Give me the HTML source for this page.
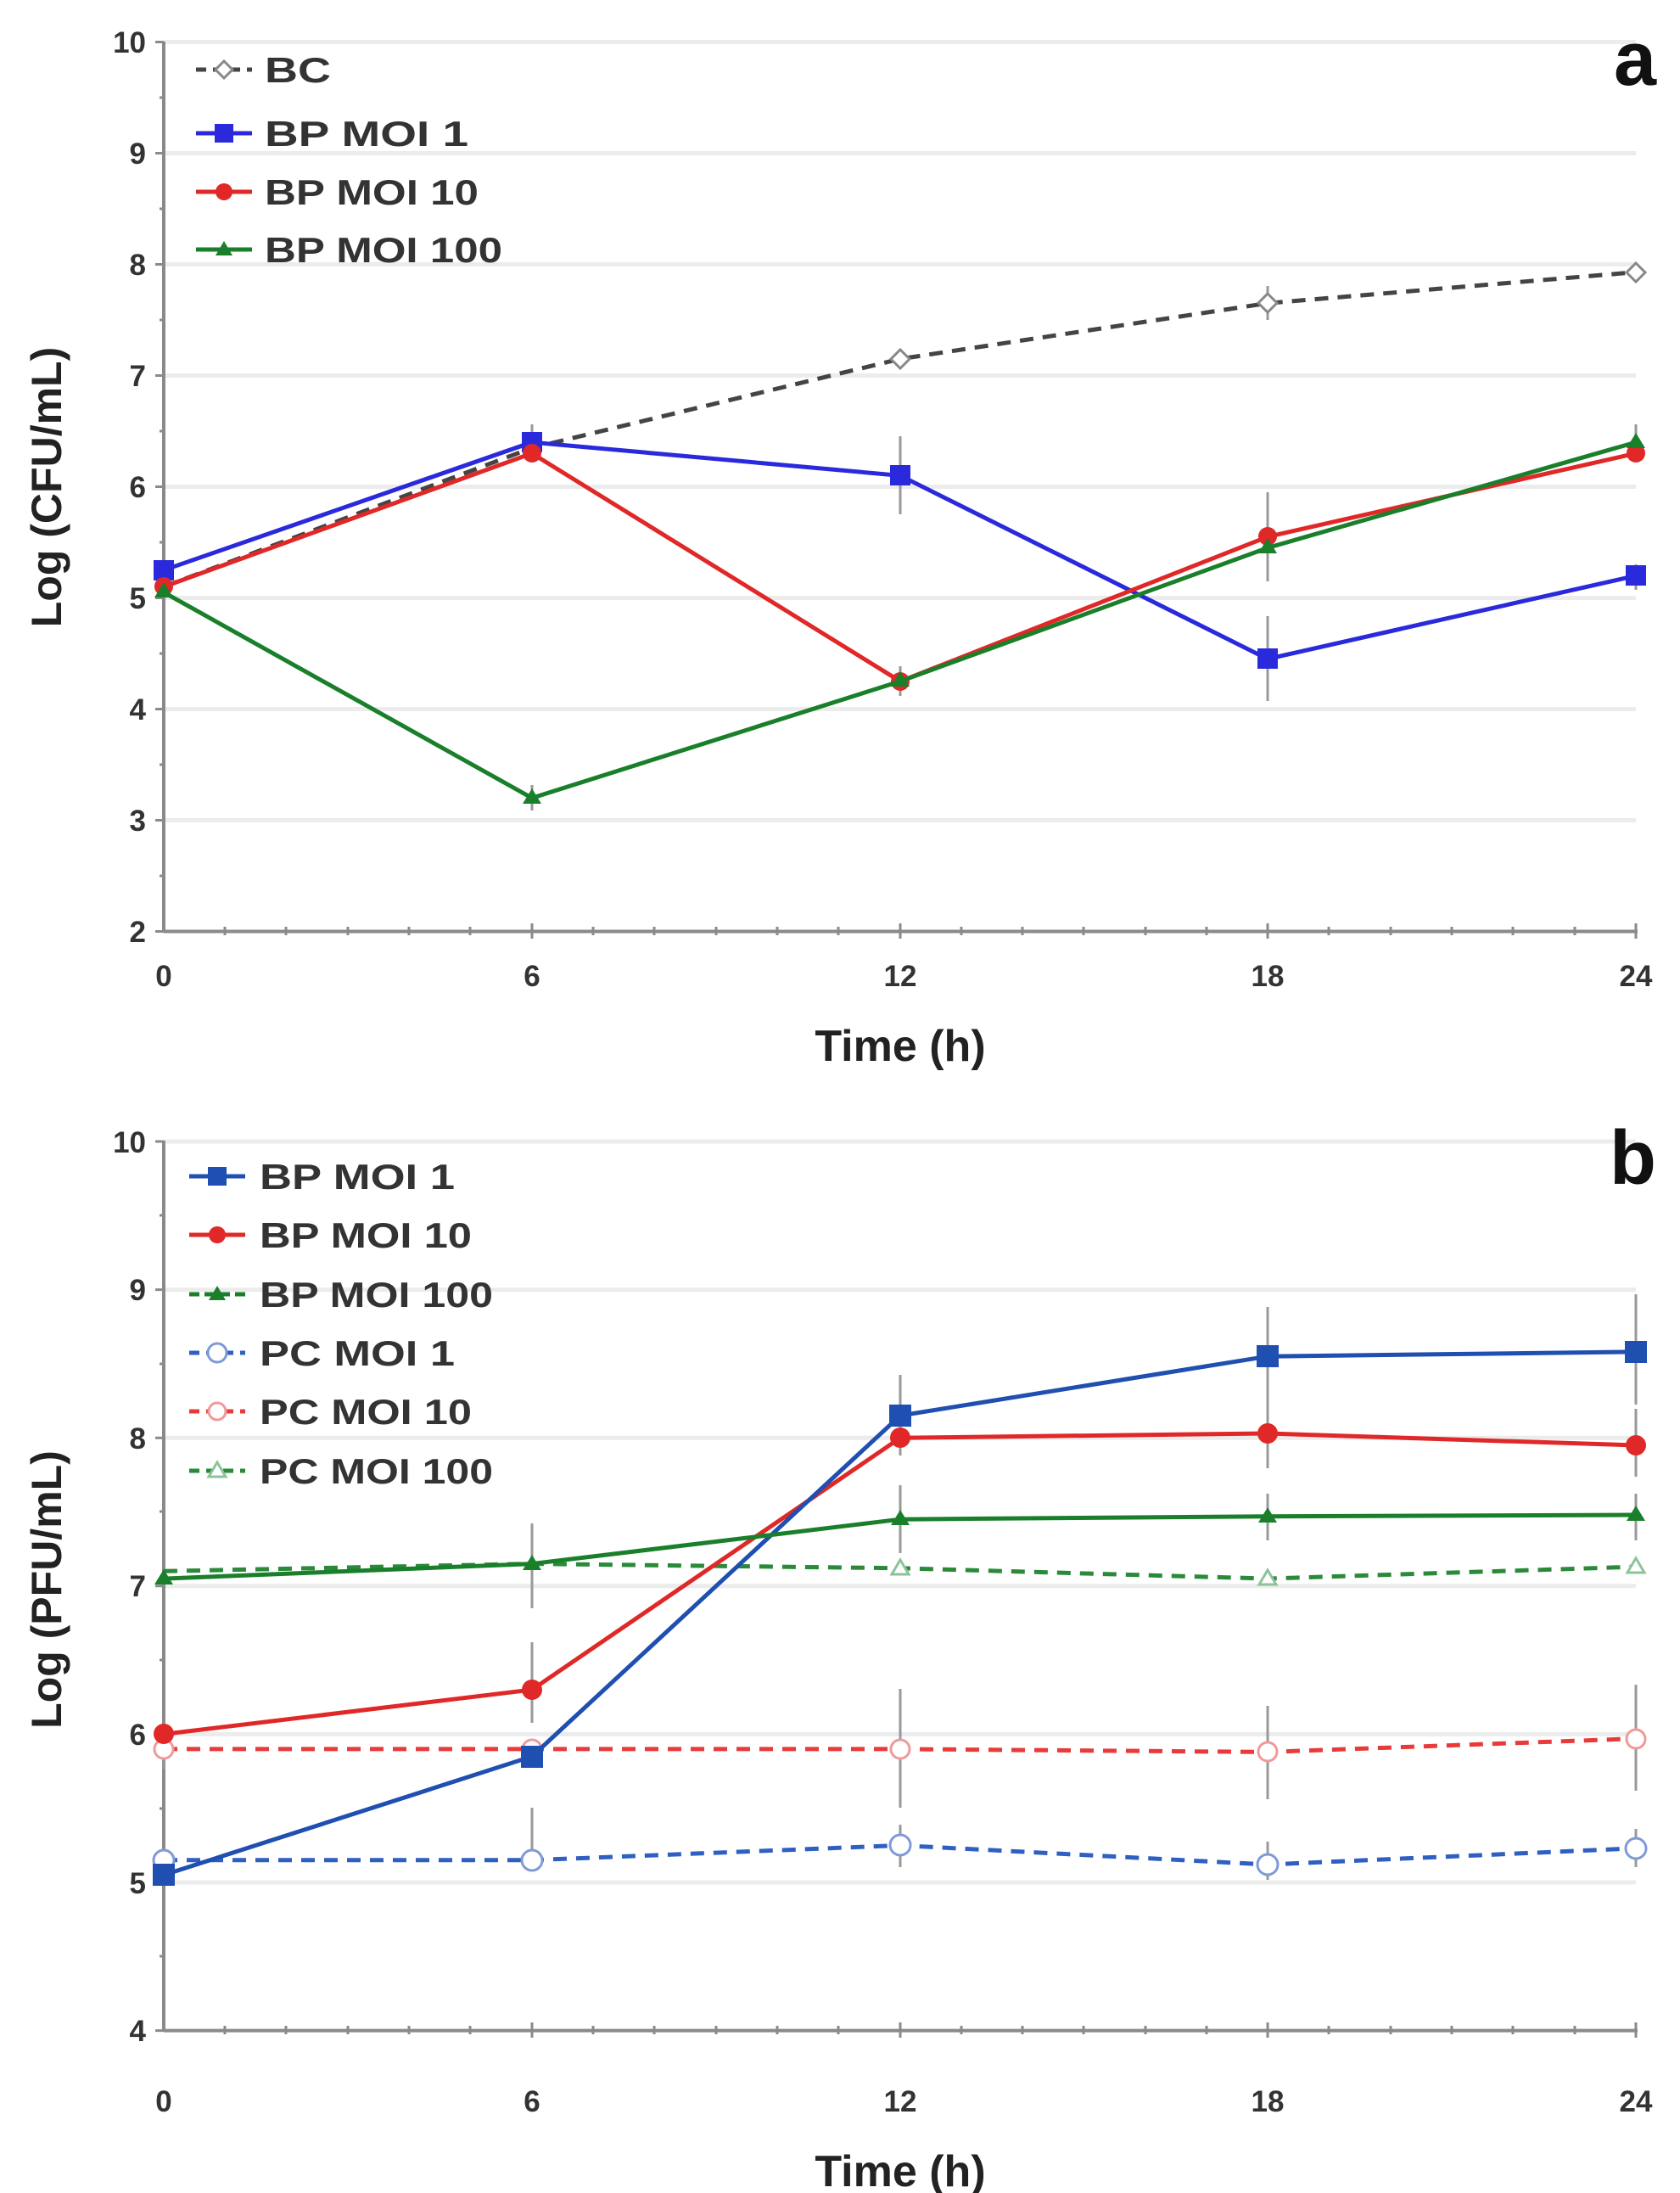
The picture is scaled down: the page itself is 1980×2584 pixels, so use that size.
<!DOCTYPE html>
<html><head><meta charset="utf-8"><style>html,body{margin:0;padding:0;background:#fff}svg{display:block}</style></head><body>
<svg width="1980" height="2584" viewBox="0 0 1980 2584" xmlns="http://www.w3.org/2000/svg" font-family="Liberation Sans, sans-serif">
<!-- Panel a -->
<g stroke="#ececec" stroke-width="5">
<line x1="193" x2="1928" y1="966.5" y2="966.5"/><line x1="193" x2="1928" y1="835.5" y2="835.5"/><line x1="193" x2="1928" y1="704.5" y2="704.5"/><line x1="193" x2="1928" y1="573.5" y2="573.5"/><line x1="193" x2="1928" y1="442.5" y2="442.5"/><line x1="193" x2="1928" y1="311.5" y2="311.5"/><line x1="193" x2="1928" y1="180.5" y2="180.5"/><line x1="193" x2="1928" y1="49.5" y2="49.5"/>
</g>
<g stroke="#8a8a8a" stroke-width="4">
<line x1="193" y1="49" x2="193" y2="1098"/><line x1="193" y1="1097.5" x2="1930" y2="1097.5"/>
</g>
<g stroke="#8a8a8a" stroke-width="3">
<path d="M183 49.5h10M183 180.5h10M183 311.5h10M183 442.5h10M183 573.5h10M183 704.5h10M183 835.5h10M183 966.5h10M183 1097.5h10M188 115h5M188 246h5M188 377h5M188 508h5M188 639h5M188 770h5M188 901h5M188 1032h5"/>
<path d="M627 1088v18M1061 1088v18M1494 1088v18M1928 1088v18"/>
<path d="M265 1092v10M337 1092v10M410 1092v10M482 1092v10M554 1092v10M699 1092v10M771 1092v10M844 1092v10M916 1092v10M988 1092v10M1133 1092v10M1205 1092v10M1277 1092v10M1350 1092v10M1422 1092v10M1566 1092v10M1639 1092v10M1711 1092v10M1783 1092v10M1856 1092v10"/>
</g>
<g font-size="35" font-weight="bold" fill="#333" text-anchor="end">
<text x="172" y="62">10</text><text x="172" y="193">9</text><text x="172" y="324">8</text><text x="172" y="455">7</text><text x="172" y="586">6</text><text x="172" y="717">5</text><text x="172" y="848">4</text><text x="172" y="979">3</text><text x="172" y="1110">2</text>
</g>
<g font-size="35" font-weight="bold" fill="#333" text-anchor="middle">
<text x="193" y="1162">0</text><text x="627" y="1162">6</text><text x="1061" y="1162">12</text><text x="1494" y="1162">18</text><text x="1928" y="1162">24</text>
</g>
<text x="1061" y="1250" font-size="52" font-weight="bold" fill="#222" text-anchor="middle">Time (h)</text>
<text transform="translate(72,574) rotate(-90)" font-size="50" font-weight="bold" fill="#222" text-anchor="middle">Log (CFU/mL)</text>
<text x="1952" y="100" font-size="90" font-weight="bold" fill="#111" text-anchor="end">a</text>
<!-- error bars a -->
<g stroke="#999" stroke-width="3">
<path d="M1061 514v92M1494 726v100M1494 580v105M1494 337v40M1928 500v45M627 500v45M1928 665v30M1061 785v35M627 925v30"/>
</g>
<!-- series a -->
<polyline points="193,691.4 627,527.7 1061,422.9 1494,357.3 1928,320.7" fill="none" stroke="#444" stroke-width="5" stroke-dasharray="16,11"/>
<g fill="#fff" stroke="#888" stroke-width="3"><path d="M1061 412l11 11-11 11-11-11z"/><path d="M1494 346l11 11-11 11-11-11z"/><path d="M1928 310l11 11-11 11-11-11z"/></g>
<polyline points="193,671.8 627,521.1 1061,560.4 1494,776.5 1928,678.3" fill="none" stroke="#2a2adc" stroke-width="5"/>
<g fill="#2a2adc"><rect x="181" y="660" width="24" height="24"/><rect x="615" y="509" width="24" height="24"/><rect x="1049" y="548" width="24" height="24"/><rect x="1482" y="764" width="24" height="24"/><rect x="1916" y="666" width="24" height="24"/></g>
<polyline points="193,691.4 627,534.2 1061,802.8 1494,632.5 1928,534.2" fill="none" stroke="#e02828" stroke-width="5"/>
<g fill="#e02828"><circle cx="193" cy="691" r="11"/><circle cx="627" cy="534" r="11"/><circle cx="1061" cy="803" r="11"/><circle cx="1494" cy="632" r="11"/><circle cx="1928" cy="534" r="11"/></g>
<polyline points="193,697.9 627,940.3 1061,802.8 1494,645.5 1928,521.1" fill="none" stroke="#1a7f2a" stroke-width="5"/>
<g fill="#1a7f2a"><path d="M193 686l11 18h-22z"/><path d="M627 929l11 18h-22z"/><path d="M1061 791l11 18h-22z"/><path d="M1494 634l11 18h-22z"/><path d="M1928 510l11 18h-22z"/></g>
<!-- legend a -->
<g font-size="42" font-weight="bold" fill="#333">
<line x1="231" y1="82" x2="297" y2="82" stroke="#444" stroke-width="5" stroke-dasharray="12,8"/><path d="M264 72l10 10-10 10-10-10z" fill="#fff" stroke="#888" stroke-width="3"/><text x="312" y="97" textLength="78" lengthAdjust="spacingAndGlyphs">BC</text>
<line x1="231" y1="157" x2="297" y2="157" stroke="#2a2adc" stroke-width="5"/><rect x="253" y="146" width="22" height="22" fill="#2a2adc"/><text x="312" y="172" textLength="240" lengthAdjust="spacingAndGlyphs">BP  MOI 1</text>
<line x1="231" y1="226" x2="297" y2="226" stroke="#e02828" stroke-width="5"/><circle cx="264" cy="226" r="10" fill="#e02828"/><text x="312" y="241" textLength="252" lengthAdjust="spacingAndGlyphs">BP MOI 10</text>
<line x1="231" y1="294" x2="297" y2="294" stroke="#1a7f2a" stroke-width="5"/><path d="M264 284l10 17h-20z" fill="#1a7f2a"/><text x="312" y="309" textLength="280" lengthAdjust="spacingAndGlyphs">BP MOI 100</text>
</g>
<!-- Panel b -->
<g stroke="#ececec" stroke-width="5">
<line x1="193" x2="1928" y1="2218" y2="2218"/><line x1="193" x2="1928" y1="2043.4" y2="2043.4"/><line x1="193" x2="1928" y1="1868.8" y2="1868.8"/><line x1="193" x2="1928" y1="1694.2" y2="1694.2"/><line x1="193" x2="1928" y1="1519.6" y2="1519.6"/><line x1="193" x2="1928" y1="1345" y2="1345"/>
</g>
<g stroke="#8a8a8a" stroke-width="4">
<line x1="193" y1="1344" x2="193" y2="2393"/><line x1="193" y1="2392.6" x2="1930" y2="2392.6"/>
</g>
<g stroke="#8a8a8a" stroke-width="3">
<path d="M183 1345h10M183 1519.6h10M183 1694.2h10M183 1868.8h10M183 2043.4h10M183 2218h10M183 2392.6h10M188 1432h5M188 1607h5M188 1781h5M188 1956h5M188 2131h5M188 2305h5"/>
<path d="M627 2383v18M1061 2383v18M1494 2383v18M1928 2383v18"/>
<path d="M265 2387v10M337 2387v10M410 2387v10M482 2387v10M554 2387v10M699 2387v10M771 2387v10M844 2387v10M916 2387v10M988 2387v10M1133 2387v10M1205 2387v10M1277 2387v10M1350 2387v10M1422 2387v10M1566 2387v10M1639 2387v10M1711 2387v10M1783 2387v10M1856 2387v10"/>
</g>
<g font-size="35" font-weight="bold" fill="#333" text-anchor="end">
<text x="172" y="1358">10</text><text x="172" y="1532">9</text><text x="172" y="1707">8</text><text x="172" y="1881">7</text><text x="172" y="2056">6</text><text x="172" y="2231">5</text><text x="172" y="2405">4</text>
</g>
<g font-size="35" font-weight="bold" fill="#333" text-anchor="middle">
<text x="193" y="2488">0</text><text x="627" y="2488">6</text><text x="1061" y="2488">12</text><text x="1494" y="2488">18</text><text x="1928" y="2488">24</text>
</g>
<text x="1061" y="2576" font-size="52" font-weight="bold" fill="#222" text-anchor="middle">Time (h)</text>
<text transform="translate(72,1873) rotate(-90)" font-size="50" font-weight="bold" fill="#222" text-anchor="middle">Log (PFU/mL)</text>
<text x="1952" y="1395" font-size="90" font-weight="bold" fill="#111" text-anchor="end">b</text>
<!-- error bars b -->
<g stroke="#999" stroke-width="3">
<path d="M627 1795v100M627 1935v95M627 2130v75M1061 1620v95M1061 1750v80M1061 1990v140M1061 2150v50M1494 1540v110M1494 1650v80M1494 1760v55M1494 2010v110M1494 2170v45M1928 1525v130M1928 1660v80M1928 1760v55M1928 1985v125M1928 2155v45M193 2030v55"/>
</g>
<!-- series b dashed -->
<polyline points="193,2191.8 627,2191.8 1061,2174.4 1494,2197 1928,2177.8" fill="none" stroke="#2f5fc0" stroke-width="5" stroke-dasharray="16,11"/>
<polyline points="193,2060.9 627,2060.9 1061,2060.9 1494,2064.4 1928,2048.6" fill="none" stroke="#e83a3a" stroke-width="5" stroke-dasharray="16,11"/>
<polyline points="193,1851.3 627,1842.6 1061,1847.8 1494,1860.1 1928,1846.1" fill="none" stroke="#2a8a3a" stroke-width="5" stroke-dasharray="16,11"/>
<g fill="#fff" stroke-width="3">
<g stroke="#7f9ad8"><circle cx="193" cy="2192" r="12"/><circle cx="627" cy="2192" r="12"/><circle cx="1061" cy="2174" r="12"/><circle cx="1494" cy="2197" r="12"/><circle cx="1928" cy="2178" r="12"/></g>
<g stroke="#ef9a9a"><circle cx="193" cy="2061" r="11"/><circle cx="627" cy="2061" r="11"/><circle cx="1061" cy="2061" r="11"/><circle cx="1494" cy="2064" r="11"/><circle cx="1928" cy="2049" r="11"/></g>
<g stroke="#8cc49a"><path d="M1061 1838l10 17h-20z"/><path d="M1494 1850l10 17h-20z"/><path d="M1928 1836l10 17h-20z"/></g>
</g>
<!-- series b solid -->
<polyline points="193,2043.4 627,1991 1061,1694.2 1494,1689 1928,1703" fill="none" stroke="#e02828" stroke-width="5"/>
<g fill="#e02828"><circle cx="193" cy="2043" r="12"/><circle cx="627" cy="1991" r="12"/><circle cx="1061" cy="1694" r="12"/><circle cx="1494" cy="1689" r="12"/><circle cx="1928" cy="1703" r="12"/></g>
<polyline points="193,2209.3 627,2069.6 1061,1668 1494,1598.2 1928,1592.9" fill="none" stroke="#1f4fb0" stroke-width="5"/>
<g fill="#1f4fb0"><rect x="180" y="2196" width="26" height="26"/><rect x="614" y="2057" width="26" height="26"/><rect x="1048" y="1655" width="26" height="26"/><rect x="1481" y="1585" width="26" height="26"/><rect x="1915" y="1580" width="26" height="26"/></g>
<polyline points="193,1860.1 627,1842.6 1061,1790.2 1494,1786.7 1928,1785" fill="none" stroke="#1a7f2a" stroke-width="5"/>
<g fill="#1a7f2a"><path d="M193 1849l11 18h-22z"/><path d="M627 1832l11 18h-22z"/><path d="M1061 1779l11 18h-22z"/><path d="M1494 1776l11 18h-22z"/><path d="M1928 1774l11 18h-22z"/></g>
<!-- legend b -->
<g font-size="42" font-weight="bold" fill="#333">
<line x1="223" y1="1386" x2="289" y2="1386" stroke="#1f4fb0" stroke-width="5"/><rect x="245" y="1375" width="22" height="22" fill="#1f4fb0"/><text x="306" y="1401" textLength="230" lengthAdjust="spacingAndGlyphs">BP MOI 1</text>
<line x1="223" y1="1455" x2="289" y2="1455" stroke="#e02828" stroke-width="5"/><circle cx="256" cy="1455" r="10" fill="#e02828"/><text x="306" y="1470" textLength="250" lengthAdjust="spacingAndGlyphs">BP MOI 10</text>
<line x1="223" y1="1525" x2="289" y2="1525" stroke="#1a7f2a" stroke-width="5" stroke-dasharray="12,6"/><path d="M256 1515l10 17h-20z" fill="#1a7f2a"/><text x="306" y="1540" textLength="275" lengthAdjust="spacingAndGlyphs">BP MOI 100</text>
<line x1="223" y1="1594" x2="289" y2="1594" stroke="#2f5fc0" stroke-width="5" stroke-dasharray="12,8"/><circle cx="256" cy="1594" r="11" fill="#fff" stroke="#7f9ad8" stroke-width="3"/><text x="306" y="1609" textLength="230" lengthAdjust="spacingAndGlyphs">PC MOI 1</text>
<line x1="223" y1="1663" x2="289" y2="1663" stroke="#e83a3a" stroke-width="5" stroke-dasharray="12,8"/><circle cx="256" cy="1663" r="10" fill="#fff" stroke="#ef9a9a" stroke-width="3"/><text x="306" y="1678" textLength="250" lengthAdjust="spacingAndGlyphs">PC MOI 10</text>
<line x1="223" y1="1733" x2="289" y2="1733" stroke="#2a8a3a" stroke-width="5" stroke-dasharray="12,8"/><path d="M256 1723l10 17h-20z" fill="#fff" stroke="#8cc49a" stroke-width="3"/><text x="306" y="1748" textLength="275" lengthAdjust="spacingAndGlyphs">PC MOI 100</text>
</g>
</svg>
</body></html>
